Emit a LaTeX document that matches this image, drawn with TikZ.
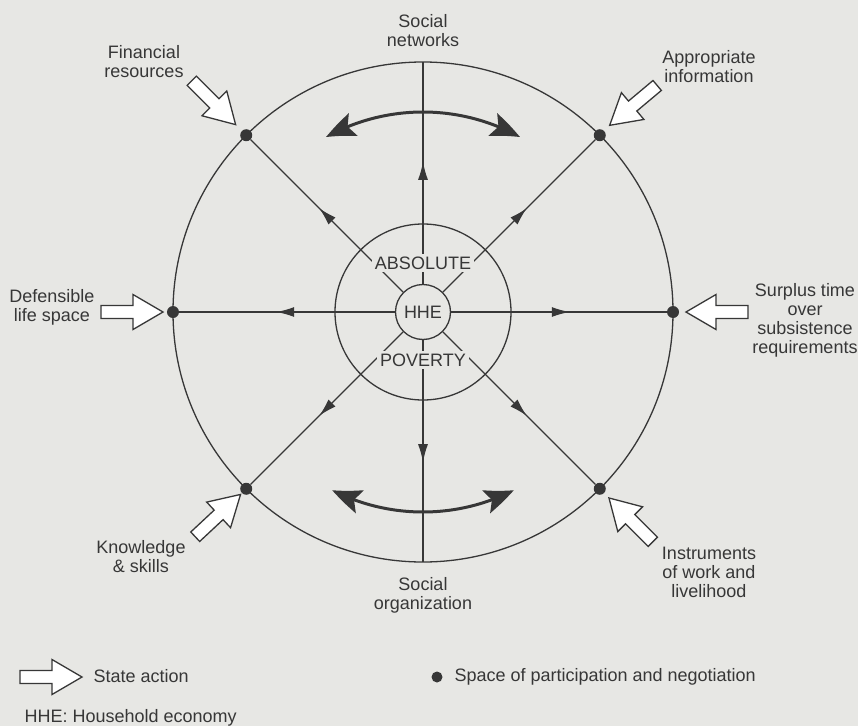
\documentclass[tikz,border=0pt]{standalone}
\usepackage{fontspec}
\setmainfont{Liberation Sans}
\usetikzlibrary{arrows.meta,bending,decorations.markings,calc}
\definecolor{paper}{RGB}{231,231,228}
\definecolor{ink}{RGB}{55,55,55}
\begin{document}
\begin{tikzpicture}[x=1pt,y=1pt,
  every node/.style={font=\fontsize{18}{19}\selectfont, text=ink},
  ring/.style={draw=ink, line width=1.3pt},
  spoke/.style={draw=ink, line width=1.3pt, postaction=decorate,
    decoration={markings, mark=at position 0.55 with {\arrow{Latex[length=18pt,width=10pt]}}}},
  dotnode/.style={circle, fill=ink, minimum size=12pt, inner sep=0pt},
  lbl/.style={align=center},
  cover/.style={fill=paper, inner sep=3pt},
  curvearrow/.style={draw=ink, line width=3pt,
    {Stealth[length=30pt,width=24pt,inset=6pt,bend]}-{Stealth[length=30pt,width=24pt,inset=6pt,bend]}},
  statearrow/.pic={\draw[draw=ink, fill=white, line width=1.3pt, line join=miter]
    (0,0) -- (-30,17.5) -- (-30,6.5) -- (-62,6.5) -- (-62,-6.5) -- (-30,-6.5) -- (-30,-17.5) -- cycle;}
]
\useasboundingbox[fill=paper] (-423,-414) rectangle (435,312);

% circles
\draw[ring] (0,0) circle[radius=250];
\draw[ring] (0,0) circle[radius=88];
\node[circle, draw=ink, line width=1.3pt, minimum size=55pt, inner sep=0pt] (hhe) at (0,0) {HHE};

% participation spaces
\node[dotnode] (fin)  at (135:250) {};
\node[dotnode] (app)  at (45:250) {};
\node[dotnode] (def)  at (180:250) {};
\node[dotnode] (sur)  at (0:250) {};
\node[dotnode] (know) at (225:250) {};
\node[dotnode] (inst) at (-45:250) {};
\coordinate (top) at (90:250);
\coordinate (bot) at (-90:250);

% spokes
\foreach \t in {fin,app,def,sur,know,inst,top,bot}
  \draw[spoke] (hhe) -- (\t);

% center labels
\node[cover] (abs) at (0,49) {ABSOLUTE};
\node[cover] (pov) at (0,-48) {POVERTY};

% curved arrows
\coordinate (ta) at (119:200);
\coordinate (tb) at (61:200);
\coordinate (ba) at (-117:200);
\coordinate (bb) at (-63:200);
\draw[curvearrow] (ta) arc[start angle=119, end angle=61, radius=200];
\draw[curvearrow] (ba) arc[start angle=-117, end angle=-63, radius=200];

% state actions
\pic[rotate=-45]  at ($(fin)+(135:15)$) {statearrow};
\pic[rotate=-140] at ($(app)+(45:14)$) {statearrow};
\pic[rotate=0]    at ($(def)+(180:10)$) {statearrow};
\pic[rotate=180]  at ($(sur)+(0:13)$) {statearrow};
\pic[rotate=43]   at ($(know)+(225:8)$) {statearrow};
\pic[rotate=135]  at ($(inst)+(-45:13)$) {statearrow};

% outer labels
\node[lbl] (lsn) at (0,281) {Social\\networks};
\node[lbl] (lso) at (0,-283) {Social\\organization};
\node[lbl] (lfin) at (-279,250) {Financial\\resources};
\node[lbl] (lapp) at (286,245) {Appropriate\\information};
\node[lbl] (ldef) at (-371,5) {Defensible\\life space};
\node[lbl] (lsur) at (382,-8) {Surplus time\\over\\subsistence\\requirements};
\node[lbl] (lknow) at (-282,-245) {Knowledge\\\& skills};
\node[lbl] (linst) at (286,-260) {Instruments\\of work and\\livelihood};

% legend
\pic at (-341,-365) {statearrow};
\node[anchor=west] (lsa) at (-333,-364) {State action};
\node[anchor=west] (lhhe) at (-402,-406) {HHE: Household economy};
\node[dotnode, minimum size=11pt] (ldot) at (14,-365) {};
\node[anchor=west] (lsp) at (28,-365) {Space of participation and negotiation};
\end{tikzpicture}
\end{document}
